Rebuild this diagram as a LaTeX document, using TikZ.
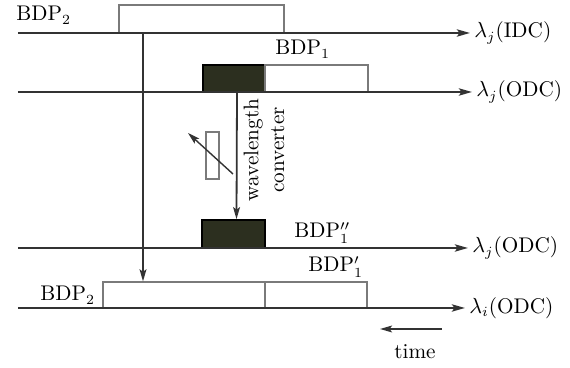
\documentclass[tikz,border=0pt]{standalone}
\usetikzlibrary{positioning, arrows.meta, calc}
\definecolor{cLine}{HTML}{333333}
\definecolor{cBox}{HTML}{7A7A7A}
\definecolor{cFill}{HTML}{2C2F1F}

\begin{document}
\begin{tikzpicture}[
  x=0.5pt, y=-0.5pt,
  every node/.style={font=\fontsize{10.6}{12.8}\selectfont},
  axis/.style={draw=cLine, line width=1pt, -{Stealth[length=6.5pt, width=3.6pt, inset=1.2pt]}},
  conn/.style={draw=cLine, line width=0.9pt, -{Stealth[length=6pt, width=3.4pt, inset=1.2pt]}},
  pulse/.style={draw=cBox, line width=0.6pt, fill=white, inner sep=0pt},
  cpulse/.style={draw=black, line width=0.8pt, fill=cFill, inner sep=0pt},
  lam/.style={anchor=west, inner sep=2pt},
  lbl/.style={anchor=base west, inner sep=0pt},
]
  \useasboundingbox (0,0) rectangle (570,368);

  % Pulses
  \node[pulse, minimum width=82.5pt, minimum height=14pt] (p2top) at (201.5,19) {};
  \node[cpulse, minimum width=31pt, minimum height=13.5pt] (c1) at (234,78.5) {};
  \node[pulse, minimum width=51.5pt, minimum height=13.5pt] (p1) at (316.5,78.5) {};
  \node[cpulse, minimum width=31.5pt, minimum height=14pt] (c1b) at (233.5,234) {};
  \node[pulse, minimum width=81pt, minimum height=13pt] (p2bot) at (184,295) {};
  \node[pulse, minimum width=51pt, minimum height=13pt] (p1b) at (316,295) {};

  % Channel labels
  \node[lam] (l1) at (470,33) {$\lambda_j$(IDC)};
  \node[lam] (l2) at (472,92) {$\lambda_j$(ODC)};
  \node[lam] (l3) at (468,248) {$\lambda_j$(ODC)};
  \node[lam] (l4) at (465,308) {$\lambda_i$(ODC)};

  \coordinate (s1) at (18,33);
  \coordinate (s2) at (18,92);
  \coordinate (s3) at (18,248);
  \coordinate (s4) at (18,308);

  \draw[axis] (s1) -- (l1.west);
  \draw[axis] (s2) -- (l2.west);
  \draw[axis] (s3) -- (l3.west);
  \draw[axis] (s4) -- (l4.west);

  % Burst labels
  \node[lbl] (b2top) at (16,21) {BDP$_2$};
  \node[lbl] (b1) at (275,55) {BDP$_1$};
  \node[lbl] (b1pp) at (294,238) {BDP$''_1$};
  \node[lbl] (b1p) at (308,272) {BDP$'_1$};
  \node[lbl] (b2bot) at (40,301) {BDP$_2$};

  % Direct path
  \coordinate (v1) at (143,33);
  \draw[conn] (v1) -- (v1 |- p2bot.north);

  % Wavelength conversion
  \draw[conn] ([xshift=1.5pt]c1.south) -- ([xshift=1.5pt]c1b.north);
  \node[rotate=90, align=center, inner sep=0pt] (wc) at (264,150) {wavelength\\converter};
  \node[pulse, minimum width=6.5pt, minimum height=23.5pt] (tun) at (212.5,155.5) {};
  \draw[conn, line width=0.7pt] ([shift={(20.5,18.5)}]tun.center) -- ([shift={(-24.5,-22.5)}]tun.center);

  % Time direction
  \coordinate (t0) at (442,329);
  \node (tm) at (415,352) {time};
  \draw[conn] (t0) -- ++(-62,0);
\end{tikzpicture}
\end{document}
